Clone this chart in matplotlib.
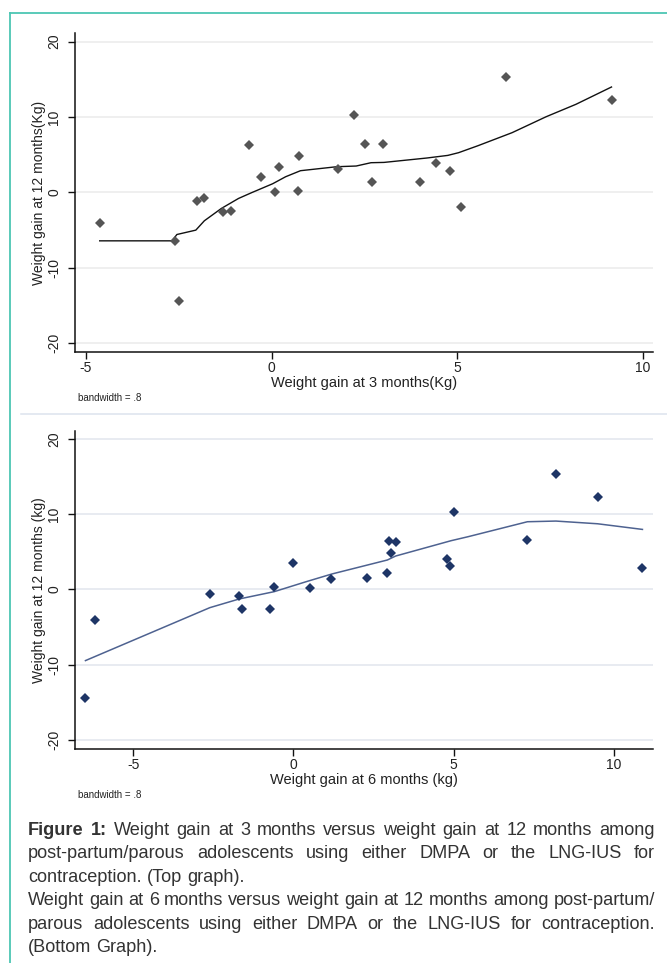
import matplotlib
matplotlib.use("Agg")
import matplotlib.pyplot as plt
from matplotlib.lines import Line2D

plt.rcParams['font.family'] = ['Liberation Sans', 'DejaVu Sans']

# ---------------- data (top graph) ----------------
x3 = [-4.63, -2.60, -2.50, -2.01, -1.82, -1.30, -1.10, -0.62, -0.29, 0.10, 0.21, 0.71,
      0.75, 1.80, 2.21, 2.51, 2.70, 3.00, 4.00, 4.43, 4.82, 5.11, 6.33, 9.16]
y12_a = [-4.03, -6.42, -14.4, -1.10, -0.80, -2.65, -2.52, 6.24, 1.99, 0.09, 3.32, 0.22,
         4.78, 3.05, 10.22, 6.42, 1.42, 6.42, 1.42, 3.89, 2.88, -1.99, 15.35, 12.30]
lowess3_x = [-4.63, -2.68, -2.55, -2.04, -1.81, -1.35, -0.89, -0.54, 0.03, 0.38, 0.78,
             1.76, 2.28, 2.68, 3.03, 4.18, 4.75, 5.04, 5.56, 6.48, 7.40, 8.20, 9.16]
lowess3_y = [-6.42, -6.42, -5.58, -5.00, -3.76, -2.12, -0.80, -0.04, 1.15, 2.08, 2.88,
             3.41, 3.50, 3.94, 3.98, 4.56, 4.91, 5.27, 6.19, 7.92, 10.04, 11.68, 13.98]

# ---------------- data (bottom graph) ----------------
x6 = [-6.49, -6.18, -2.61, -1.69, -1.62, -0.72, -0.60, 0.00, 0.51, 1.18, 2.31, 2.91,
      2.98, 3.03, 3.19, 4.80, 4.88, 5.00, 7.30, 8.19, 9.49, 10.89]
y12_b = [-14.48, -4.03, -0.62, -0.89, -2.57, -2.57, 0.27, 3.45, 0.22, 1.42, 1.55, 2.17,
         6.42, 4.78, 6.24, 4.07, 3.14, 10.23, 6.55, 15.37, 12.27, 2.88]
lowess6_x = [-6.49, -2.61, -1.69, -0.60, 0.40, 1.20, 2.93, 3.19, 4.92, 5.45, 7.30, 8.19,
             9.49, 10.89]
lowess6_y = [-9.48, -2.44, -1.28, -0.31, 1.02, 2.04, 3.90, 4.43, 6.47, 7.00, 8.99, 9.08,
             8.72, 7.97]

yticks = [-20, -10, 0, 10, 20]
xticks = [-5, 0, 5, 10]

W, H = 667, 963
fig = plt.figure(figsize=(W / 100, H / 100), dpi=100)
fig.patch.set_facecolor('white')


def fy(px):
    return 1 - px / H


def fx(px):
    return px / W


def style_axes(ax, grid_color, xlim, xlabel, ylabel):
    ax.set_xlim(*xlim)
    ax.set_ylim(-21.2, 21.1)
    ax.set_yticks(yticks)
    ax.set_xticks(xticks)
    ax.set_yticklabels([str(v) for v in yticks], rotation=90, va='center')
    ax.set_xticklabels([str(v) for v in xticks])
    for s in ('top', 'right'):
        ax.spines[s].set_visible(False)
    for s in ('left', 'bottom'):
        ax.spines[s].set_linewidth(1.1)
        ax.spines[s].set_color('#111111')
    ax.tick_params(axis='both', length=5, width=1, color='#111111',
                   labelsize=10, labelcolor='#222222')
    ax.tick_params(axis='y', pad=5)
    ax.tick_params(axis='x', pad=1.5)
    ax.yaxis.grid(True, color=grid_color, lw=1.1)
    ax.set_axisbelow(True)
    ax.set_xlabel(xlabel, fontsize=10.5, color='#222222', va='center')
    ax.set_ylabel(ylabel, fontsize=10, color='#222222', va='center')
    ax.yaxis.set_label_coords(-0.062, 0.5)
    ax.xaxis.set_label_coords(0.5, -0.097)


# top axes
ax1 = fig.add_axes([fx(75.2), fy(352.3), fx(652.7) - fx(75.2), fy(33.3) - fy(352.3)])
style_axes(ax1, '#ebebeb', (-5.29, 10.27), 'Weight gain at 3 months(Kg)',
           'Weight gain at 12 months(Kg)')
ax1.plot(lowess3_x, lowess3_y, color='#111111', lw=1.0, zorder=3)
ax1.plot(x3, y12_a, linestyle='none', marker='D', markersize=5.2,
         color='#555555', markeredgewidth=0, zorder=4)

# bottom axes
ax2 = fig.add_axes([fx(75.2), fy(748.7), fx(652.7) - fx(75.2), fy(430.7) - fy(748.7)])
style_axes(ax2, '#e2e6ee', (-6.81, 11.21), 'Weight gain at 6 months (kg)',
           'Weight gain at 12 months (kg)')
ax2.plot(lowess6_x, lowess6_y, color='#4e6290', lw=1.1, zorder=3)
ax2.plot(x6, y12_b, linestyle='none', marker='D', markersize=5.2,
         color='#1e3566', markeredgewidth=0, zorder=4)

# bandwidth notes
fig.text(fx(78), fy(398), 'bandwidth = .8', fontsize=7, color='#222222', va='center', ha='left')
fig.text(fx(78), fy(795), 'bandwidth = .8', fontsize=7, color='#222222', va='center', ha='left')

# frame lines
teal = '#4cc6b3'
fig.add_artist(Line2D([fx(10), 1.0], [fy(13), fy(13)], color=teal, lw=1.3))
fig.add_artist(Line2D([fx(10), fx(10)], [fy(13), 0.0], color=teal, lw=1.3))
fig.add_artist(Line2D([fx(21), 1.0], [fy(414), fy(414)], color='#dde3ee', lw=1.1))

# caption (justified)
caption_lines = [
    ([('Figure', 'bold'), ('1:', 'bold')] + [(w, 'normal') for w in
      'Weight gain at 3 months versus weight gain at 12 months among'.split()], True),
    ([(w, 'normal') for w in
      'post-partum/parous adolescents using either DMPA or the LNG-IUS for'.split()], True),
    ([(w, 'normal') for w in 'contraception. (Top graph).'.split()], False),
    ([(w, 'normal') for w in
      'Weight gain at 6 months versus weight gain at 12 months among post-partum/'.split()], True),
    ([(w, 'normal') for w in
      'parous adolescents using either DMPA or the LNG-IUS for contraception.'.split()], True),
    ([(w, 'normal') for w in '(Bottom Graph).'.split()], False),
]
line_y = [830, 853, 877, 900, 924, 947]
left_px, right_px = 28, 655
fs0 = 11.0
fig.canvas.draw()
renderer = fig.canvas.get_renderer()


def measure(s, weight, size):
    t = fig.text(0, 0, s, fontsize=size, weight=weight)
    w = t.get_window_extent(renderer).width
    t.remove()
    return w


def natural_width(words, size):
    sp = measure('a a', 'normal', size) - measure('aa', 'normal', size)
    return sum(measure(w, wt, size) for w, wt in words) + sp * (len(words) - 1)


avail = right_px - left_px
maxw = max(natural_width(words, fs0) for words, _ in caption_lines)
fs = fs0 * (avail - 3) / maxw

space = measure('a a', 'normal', fs) - measure('aa', 'normal', fs)
for (words, justify), yp in zip(caption_lines, line_y):
    widths = [measure(w, wt, fs) for w, wt in words]
    if justify and len(words) > 1:
        gap = (avail - sum(widths)) / (len(words) - 1)
    else:
        gap = space
    x = left_px
    for (w, wt), wd in zip(words, widths):
        fig.text(fx(x), fy(yp), w, fontsize=fs, weight=wt, color='#333333',
                 va='center', ha='left')
        x += wd + gap

fig.savefig('out.png', dpi=100, facecolor='white')
